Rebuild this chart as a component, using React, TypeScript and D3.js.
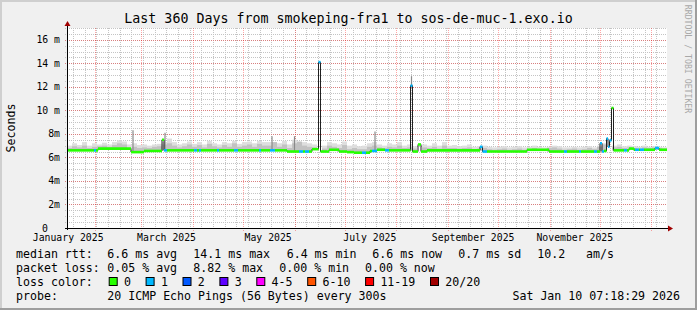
import * as d3 from 'd3';

const WIDTH = 697;
const HEIGHT = 310;
const PLOT = { left: 67, right: 667, top: 28, bottom: 228 };
const MONO = '"DejaVu Sans Mono", monospace';

const END = new Date(Date.UTC(2026, 0, 10, 7, 18, 29));
const SPAN_DAYS = 360;
const START = new Date(END.getTime() - SPAN_DAYS * 86400000);

// median rtt as steps: day offset (from START) where each step begins, value in ms, loss bucket
const stepDays = [
  0, 16.2, 17.4, 18.6, 38.4, 46.2, 57.0, 58.2, 60.0, 76.2, 78.0, 79.2, 80.4, 90.0, 91.2,
  100.2, 102.6, 115.2, 116.4, 121.8, 124.8, 132.0, 139.2, 141.6, 142.8, 145.2, 147.0,
  150.9, 152.1, 157.2, 163.2, 168.0, 172.2, 177.0, 179.4, 181.8, 183.0, 186.0, 190.8,
  193.2, 206.1, 207.3, 210.6, 212.4, 216.0, 247.8, 249.3, 252.0, 276.0, 289.2, 298.2,
  300.0, 307.2, 308.4, 316.2, 318.0, 319.8, 321.0, 322.2, 323.7, 324.6, 325.5, 326.7,
  327.9, 334.2, 336.0, 337.2, 340.2, 340.8, 343.2, 343.8, 346.2, 352.8, 355.2,
];
const stepMs = [
  6.6, 6.6, 6.6, 6.75, 6.45, 6.55, 7.5, 6.6, 6.6, 6.6, 6.6, 6.6, 6.6, 6.6, 6.6,
  6.6, 6.6, 6.6, 6.6, 6.6, 6.6, 6.5, 6.5, 6.5, 6.5, 6.5, 6.7,
  14.1, 6.5, 6.65, 6.5, 6.45, 6.4, 6.4, 6.4, 6.55, 6.55, 6.65, 6.6,
  6.6, 12.1, 6.5, 7.1, 6.5, 6.6, 6.9, 6.5, 6.5, 6.65, 6.5, 6.5,
  6.5, 6.5, 6.5, 6.5, 6.5, 7.2, 6.5, 6.55, 7.6, 6.9, 7.45, 10.2,
  6.6, 6.6, 6.6, 6.75, 6.65, 6.65, 6.65, 6.65, 6.65, 6.8, 6.65,
];
const stepLoss = [
  0, 1, 0, 0, 0, 0, 0, 1, 0, 1, 0, 1, 0, 1, 0,
  1, 0, 1, 0, 1, 0, 0, 1, 0, 1, 0, 0,
  1, 0, 0, 0, 0, 0, 1, 0, 0, 1, 0, 1,
  0, 1, 0, 0, 0, 0, 1, 1, 0, 0, 0, 1,
  0, 1, 0, 1, 0, 1, 1, 0, 1, 1, 1, 0,
  0, 1, 0, 0, 0, 1, 0, 1, 0, 1, 0,
];

// ping spread ("smoke"), one value per 3-day slot: top of the light and the dense grey (ms)
const smokeHigh = [
  7.0, 7.2, 7.05, 7.3, 7.0, 7.2, 7.1, 7.25, 7.1, 7.3, 7.45, 7.35, 7.1, 7.2, 7.05, 7.1, 7.0, 7.1, 7.15, 7.3,
  7.6, 7.3, 7.1, 7.2, 7.35, 7.15, 7.3, 7.1, 7.4, 7.2, 7.1, 7.3, 7.2, 7.4, 7.15, 7.3, 7.35, 7.2, 7.4, 7.3,
  7.3, 7.3, 7.2, 7.4, 7.1, 7.5, 7.3, 7.3, 7.2, 7.1, 7.05, 7.0, 7.3, 7.2, 7.1, 7.35, 7.0, 7.1, 6.95, 7.0,
  7.2, 7.3, 7.1, 7.0, 7.2, 7.1, 7.3, 7.0, 7.1, 6.95, 7.0, 7.1, 7.0, 7.2, 7.0, 7.3, 7.0, 7.05, 6.95, 7.0,
  7.1, 6.9, 6.95, 7.0, 6.9, 6.85, 6.9, 6.95, 6.85, 6.9, 6.95, 6.85, 6.9, 7.0, 6.9, 6.85, 6.9, 7.0, 6.95, 6.85,
  6.85, 6.9, 6.85, 6.9, 6.95, 6.85, 7.0, 7.2, 7.3, 7.0, 7.1, 6.95, 7.0, 6.95, 6.9, 7.0, 6.9, 6.95, 6.9, 6.85,
];
const smokeDense = [
  6.8, 6.95, 6.85, 7.0, 6.8, 6.9, 6.95, 7.0, 6.9, 7.05, 7.2, 7.1, 6.75, 6.9, 6.8, 6.85, 6.8, 6.9, 6.95, 7.1,
  7.2, 7.0, 6.85, 6.95, 7.1, 6.9, 7.05, 6.85, 7.15, 6.95, 6.85, 7.05, 6.9, 7.2, 6.9, 7.0, 7.1, 6.9, 7.15, 7.0,
  7.0, 7.3, 6.9, 7.1, 6.8, 7.2, 7.35, 7.0, 6.9, 6.85, 6.8, 6.75, 7.0, 6.9, 6.8, 7.05, 6.7, 6.8, 6.7, 6.7,
  6.9, 7.0, 6.85, 6.8, 6.9, 6.85, 7.0, 6.8, 6.85, 6.75, 6.8, 6.85, 6.8, 6.9, 6.75, 7.0, 6.8, 6.8, 6.75, 6.8,
  6.85, 6.7, 6.75, 6.8, 6.7, 6.65, 6.7, 6.75, 6.65, 6.7, 6.75, 6.65, 6.7, 6.8, 6.7, 6.65, 6.8, 6.85, 6.75, 6.65,
  6.7, 6.75, 6.65, 6.7, 6.8, 6.7, 6.9, 7.1, 7.2, 6.85, 6.9, 6.8, 6.85, 6.8, 6.75, 6.85, 6.8, 6.85, 6.8, 6.75,
];
const SMOKE_SLOT_DAYS = 3;

// single tall ping outliers
const peakDays = [39.6, 58.8, 123.0, 136.5, 184.8, 206.7];
const peakMs = [8.3, 8.1, 7.8, 7.8, 8.2, 12.9];

const lossLabels = ['0', '1', '2', '3', '4-5', '6-10', '11-19', '20/20'];
const lossColors = ['#26ff00', '#00b8ff', '#0059ff', '#5e00ff', '#ff00ff', '#ff5500', '#ff0000', '#a10000'];

const monthLabels = ['January 2025', 'March 2025', 'May 2025', 'July 2025', 'September 2025', 'November 2025'];
const monthLabelDates = ['2025-01-16', '2025-03-16', '2025-05-16', '2025-07-16', '2025-09-16', '2025-11-16'];

const rttItems = ['6.6 ms avg', '14.1 ms max', '6.4 ms min', '6.6 ms now', '0.7 ms sd', '10.2', 'am/s'];
const rttX = [107.3, 193.3, 286.7, 372.3, 458.3, 537.3, 586];
const lossItems = ['0.05 % avg', '8.82 % max', '0.00 % min', '0.00 % now'];
const lossX = [107.3, 193.3, 279.3, 365];

const TITLE = 'Last 360 Days from smokeping-fra1 to sos-de-muc-1.exo.io';
const PROBE = '20 ICMP Echo Pings (56 Bytes) every 300s';
const STAMP = 'Sat Jan 10 07:18:29 2026';

export default function App() {
  const x = d3.scaleUtc().domain([START, END]).range([PLOT.left, PLOT.right]);
  const xd = d3.scaleLinear().domain([0, SPAN_DAYS]).range([PLOT.left, PLOT.right]);
  const y = d3.scaleLinear().domain([0, 17]).range([PLOT.bottom, PLOT.top]);

  const minorX = d3.utcSunday.range(START, END);
  const majorX = d3.utcMonth.range(START, END);
  const minorY = y.ticks(34);
  const majorY = y.ticks(8);

  const medianAt = (day: number) => {
    const i = Math.max(0, d3.bisectRight(stepDays, day) - 1);
    return stepMs[i];
  };

  const stepPts: [number, number][] = stepDays.map((d, i) => [xd(d), y(stepMs[i])]);
  stepPts.push([xd(SPAN_DAYS), y(stepMs[stepMs.length - 1])]);
  const medianPath = d3.line().curve(d3.curveStepAfter)(stepPts) || '';

  const smokeRect = (vals: number[], fill: string) =>
    vals.map((v, i) => {
      const d0 = i * SMOKE_SLOT_DAYS;
      const m = medianAt(d0 + SMOKE_SLOT_DAYS / 2);
      if (v <= m) return null;
      return (
        <rect key={`${fill}${i}`} x={xd(d0)} width={xd(d0 + SMOKE_SLOT_DAYS) - xd(d0)}
          y={y(v)} height={y(m) - y(v)} fill={fill} />
      );
    });

  // legend swatch layout
  const swatches: { sx: number; tx: number }[] = [];
  let sx = 108.7;
  lossLabels.forEach((l) => {
    const tx = sx + 15.3;
    swatches.push({ sx, tx });
    sx = tx + l.length * 7 + 14.6;
  });

  const txt = { fontFamily: MONO, fill: '#000' } as const;

  return (
    <svg width={WIDTH} height={HEIGHT} style={{ position: 'absolute', left: 0, top: 0, display: 'block' }}>
      <rect x={0} y={0} width={WIDTH} height={HEIGHT} fill="#f0f0f0" />
      <rect x={0} y={0} width={WIDTH} height={2} fill="#cfcfcf" />
      <rect x={0} y={0} width={2} height={HEIGHT} fill="#cfcfcf" />
      <rect x={0} y={HEIGHT - 2} width={WIDTH} height={2} fill="#9e9e9e" />
      <rect x={WIDTH - 2} y={0} width={2} height={HEIGHT} fill="#9e9e9e" />

      <rect x={PLOT.left} y={PLOT.top} width={PLOT.right - PLOT.left} height={PLOT.bottom - PLOT.top} fill="#fff" />

      {/* grid */}
      <g strokeWidth={1} strokeDasharray="1,1" fill="none">
        {minorY.map((t) => (
          <line key={`my${t}`} x1={PLOT.left - 2} x2={PLOT.right} y1={Math.round(y(t)) + 0.5} y2={Math.round(y(t)) + 0.5} stroke="#c4c4c4" />
        ))}
        {minorX.map((t) => (
          <line key={`mx${+t}`} x1={Math.round(x(t)) + 0.5} x2={Math.round(x(t)) + 0.5} y1={PLOT.top} y2={PLOT.bottom + 2} stroke="#c4c4c4" />
        ))}
        {majorY.map((t) => (
          <line key={`My${t}`} x1={PLOT.left - 2} x2={PLOT.right} y1={Math.round(y(t)) + 0.5} y2={Math.round(y(t)) + 0.5} stroke="rgba(255,0,0,0.35)" />
        ))}
        {majorX.map((t) => (
          <line key={`Mx${+t}`} x1={Math.round(x(t)) + 0.5} x2={Math.round(x(t)) + 0.5} y1={PLOT.top} y2={PLOT.bottom + 3} stroke="rgba(255,0,0,0.35)" />
        ))}
      </g>

      {/* smoke */}
      <g>{smokeRect(smokeHigh, '#dedede')}</g>
      <g>{smokeRect(smokeDense, '#c2c2c2')}</g>
      <g>
        {peakDays.map((d, i) => (
          <line key={`pk${i}`} x1={xd(d)} x2={xd(d)} y1={y(peakMs[i])} y2={y(medianAt(d))} stroke="#8a8a8a" strokeWidth={1.2} />
        ))}
      </g>

      {/* median */}
      <path d={medianPath} fill="none" stroke="#202020" strokeWidth={1} />
      <g>
        {stepDays.map((d, i) => {
          const d1 = i + 1 < stepDays.length ? stepDays[i + 1] : SPAN_DAYS;
          return (
            <line key={`st${i}`} x1={xd(d)} x2={xd(d1)} y1={y(stepMs[i])} y2={y(stepMs[i])}
              stroke={lossColors[stepLoss[i]]} strokeWidth={2.6} />
          );
        })}
      </g>

      {/* axes */}
      <line x1={PLOT.left - 2} x2={PLOT.right + 4} y1={PLOT.bottom + 0.5} y2={PLOT.bottom + 0.5} stroke="#000" />
      <line x1={PLOT.left + 0.5} x2={PLOT.left + 0.5} y1={PLOT.bottom + 2} y2={PLOT.top - 4} stroke="#000" />
      <path d={`M${PLOT.right + 1},${PLOT.bottom - 2.5}L${PLOT.right + 6},${PLOT.bottom + 0.5}L${PLOT.right + 1},${PLOT.bottom + 3.5}Z`} fill="#a00000" />
      <path d={`M${PLOT.left - 2.5},${PLOT.top - 2}L${PLOT.left + 0.5},${PLOT.top - 7}L${PLOT.left + 3.5},${PLOT.top - 2}Z`} fill="#a00000" />

      {/* y labels */}
      <g style={{ fontFamily: MONO, fontSize: '9.8px' }} fill="#000" textAnchor="end">
        {majorY.map((t) => (
          <text key={`yl${t}`} x={t === 0 ? 48 : 60} y={y(t) + 3.5}>
            {t === 0 ? '0' : t >= 10 ? `${t} m` : `${t}m`}
          </text>
        ))}
      </g>

      {/* x labels */}
      <g style={{ fontFamily: MONO, fontSize: '9.8px' }} fill="#000" textAnchor="middle">
        {monthLabels.map((l, i) => (
          <text key={l} x={x(new Date(monthLabelDates[i] + 'T00:00:00Z'))} y={241}>{l}</text>
        ))}
      </g>

      <text x={WIDTH / 2} y={23} textAnchor="middle" style={{ ...txt, fontSize: '13.3px' }}>{TITLE}</text>
      <text transform={`translate(15,${(PLOT.top + PLOT.bottom) / 2}) rotate(-90)`} textAnchor="middle" style={{ ...txt, fontSize: '11.6px' }}>Seconds</text>
      <text transform="translate(685,59) rotate(90)" textAnchor="middle" style={{ fontFamily: MONO, fontSize: '8.2px' }} fill="#a8a8a8">RRDTOOL / TOBI OETIKER</text>

      {/* legend */}
      <g style={{ ...txt, fontSize: '11.6px' }}>
        <text x={16} y={258}>median rtt:</text>
        {rttItems.map((s, i) => <text key={`r${i}`} x={rttX[i]} y={258}>{s}</text>)}
        <text x={16} y={272}>packet loss:</text>
        {lossItems.map((s, i) => <text key={`l${i}`} x={lossX[i]} y={272}>{s}</text>)}
        <text x={16} y={286}>loss color:</text>
        {swatches.map((s, i) => (
          <g key={`sw${i}`}>
            <rect x={s.sx + 0.5} y={277.5} width={8} height={8} fill={lossColors[i]} stroke="#000" strokeWidth={1} />
            <text x={s.tx} y={286}>{lossLabels[i]}</text>
          </g>
        ))}
        <text x={16} y={300}>probe:</text>
        <text x={107.3} y={300}>{PROBE}</text>
        <text x={680} y={300} textAnchor="end">{STAMP}</text>
      </g>
    </svg>
  );
}
